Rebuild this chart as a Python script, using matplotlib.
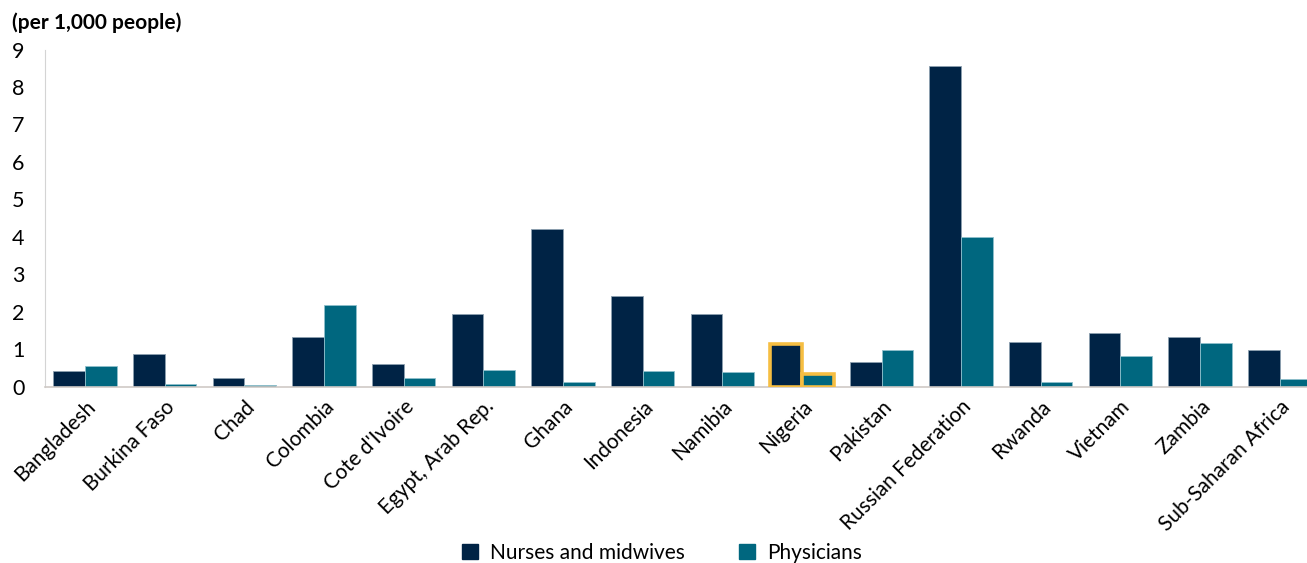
import numpy as np
import matplotlib
matplotlib.use("Agg")
import matplotlib.pyplot as plt
from matplotlib.patches import Patch

plt.rcParams['font.family'] = ['Lato', 'DejaVu Sans']

countries = ['Bangladesh', 'Burkina Faso', 'Chad', 'Colombia', "Cote d'Ivoire",
             'Egypt, Arab Rep.', 'Ghana', 'Indonesia', 'Namibia', 'Nigeria',
             'Pakistan', 'Russian Federation', 'Rwanda', 'Vietnam', 'Zambia',
             'Sub-Saharan Africa']
nurses = [0.42, 0.87, 0.22, 1.32, 0.60, 1.93, 4.20, 2.41, 1.94, 1.13,
          0.66, 8.55, 1.18, 1.44, 1.33, 0.97]
physicians = [0.56, 0.07, 0.04, 2.18, 0.22, 0.44, 0.13, 0.42, 0.40, 0.33,
              0.97, 4.00, 0.13, 0.82, 1.17, 0.21]
highlight = 'Nigeria'

NAVY = '#002345'
TEAL = '#00677f'
GOLD = '#f6be42'

fig = plt.figure(figsize=(13.07, 5.63), dpi=100)
ax = fig.add_axes([45.3/1307, 1-386.7/563, 16*79.64/1307, (386.7-49.5)/563])

x = np.arange(len(countries))
w = 0.398
b1 = ax.bar(x - w/2, nurses, w, color=NAVY, edgecolor='#8da0b0', linewidth=0.6, zorder=2)
b2 = ax.bar(x + w/2, physicians, w, color=TEAL, edgecolor='#8fc0cc', linewidth=0.6, zorder=2)
i = countries.index(highlight)
for b in (b1[i], b2[i]):
    b.set_edgecolor(GOLD)
    b.set_linewidth(2.6)
    b.set_zorder(3)

ax.set_xlim(-0.5, len(countries) - 0.5)
ax.set_ylim(0, 9)
ax.set_yticks(range(10))
ax.tick_params(axis='y', length=0, labelsize=15.5, pad=24, colors='black')
for lab in ax.get_yticklabels():
    lab.set_horizontalalignment('left')
ax.set_xticks(x)
ax.set_xticklabels(countries, rotation=45, ha='right', rotation_mode='anchor', fontsize=15)
ax.tick_params(axis='x', length=0, pad=7)
for s in ('top', 'right'):
    ax.spines[s].set_visible(False)
ax.spines['left'].set_color('#d4d4d4')
ax.spines['bottom'].set_color('#cfcac6')
ax.spines['bottom'].set_linewidth(1.2)

fig.text(12/1307, 1-23/563, '(per 1,000 people)', fontsize=15, fontweight='bold', va='center')

handles = [Patch(color=NAVY, label='Nurses and midwives'), Patch(color=TEAL, label='Physicians')]
fig.legend(handles=handles, loc='center', bbox_to_anchor=(662/1307, 1-553/563), ncol=2,
           frameon=False, fontsize=15, handlelength=0.75, handleheight=0.75,
           columnspacing=2.6, handletextpad=0.6)

fig.savefig('out.png', dpi=100)
